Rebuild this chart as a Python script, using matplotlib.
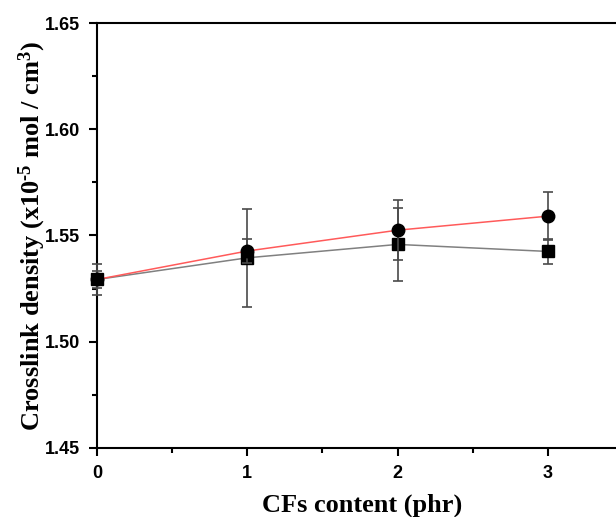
import matplotlib
matplotlib.use("Agg")
import matplotlib.pyplot as plt
from matplotlib.ticker import MultipleLocator

# CF loading (phr)
cf_content = [0, 1, 2, 3]

# Crosslink density series (x10^-5 mol/cm^3) and standard deviations
circle_density = [1.5293, 1.5427, 1.5525, 1.5591]
circle_err = [0.0042, 0.0057, 0.0141, 0.0114]
square_density = [1.5293, 1.5395, 1.5458, 1.5425]
square_err = [0.0071, 0.0230, 0.0173, 0.0059]

plt.rcParams["mathtext.default"] = "regular"

fig = plt.figure(figsize=(6.16, 5.17), dpi=100)
ax = fig.add_axes([97 / 616, 69 / 517, 526 / 616, 425 / 517])

err_kw = dict(ecolor="#4a4a4a", elinewidth=1.2, capsize=3.5, capthick=1.2)

series = [
    (square_density, square_err, "#808080", "s", 8, 3),
    (circle_density, circle_err, "#ff5a5a", "o", 9, 4),
]
for vals, errs, color, marker, size, z in series:
    cont = ax.errorbar(cf_content, vals, yerr=errs, color=color, lw=1.1,
                       marker=marker, ms=size, mfc="black", mec="black",
                       zorder=z, **err_kw)
    for art in cont.lines[0:1] + tuple(cont.lines[1]) + tuple(cont.lines[2]):
        art.set_clip_on(False)

ax.set_xlim(0, 3.5)
ax.set_ylim(1.45, 1.65)
ax.xaxis.set_major_locator(MultipleLocator(1))
ax.xaxis.set_minor_locator(MultipleLocator(0.5))
ax.yaxis.set_major_locator(MultipleLocator(0.05))
ax.yaxis.set_minor_locator(MultipleLocator(0.025))
ax.set_yticks([1.45, 1.50, 1.55, 1.60, 1.65])
ax.set_yticklabels(["1.45", "1.50", "1.55", "1.60", "1.65"])
ax.set_xticks([0, 1, 2, 3])
ax.set_xticklabels(["0", "1", "2", "3"])

for s in ax.spines.values():
    s.set_linewidth(1.5)

ax.tick_params(which="major", direction="out", length=6, width=1.5, pad=6,
               labelsize=13)
ax.tick_params(which="minor", direction="out", length=3.5, width=1.5)
for lab in ax.get_xticklabels() + ax.get_yticklabels():
    lab.set_fontfamily("Liberation Sans")
    lab.set_fontweight("bold")

label_font = dict(family="Liberation Serif", weight="bold", size=19)
ax.set_xlabel("CFs content (phr)", va="center", **label_font)
ax.set_ylabel("Crosslink density (x10$^{\u20105}$ mol / cm$^3$)", **label_font)
ax.xaxis.set_label_coords((362 - 97) / 526, -(505 - 448) / 425)
ax.yaxis.set_label_coords((48 - 97) / 526, (448 - 236) / 425)

fig.savefig("out.png", dpi=100)
